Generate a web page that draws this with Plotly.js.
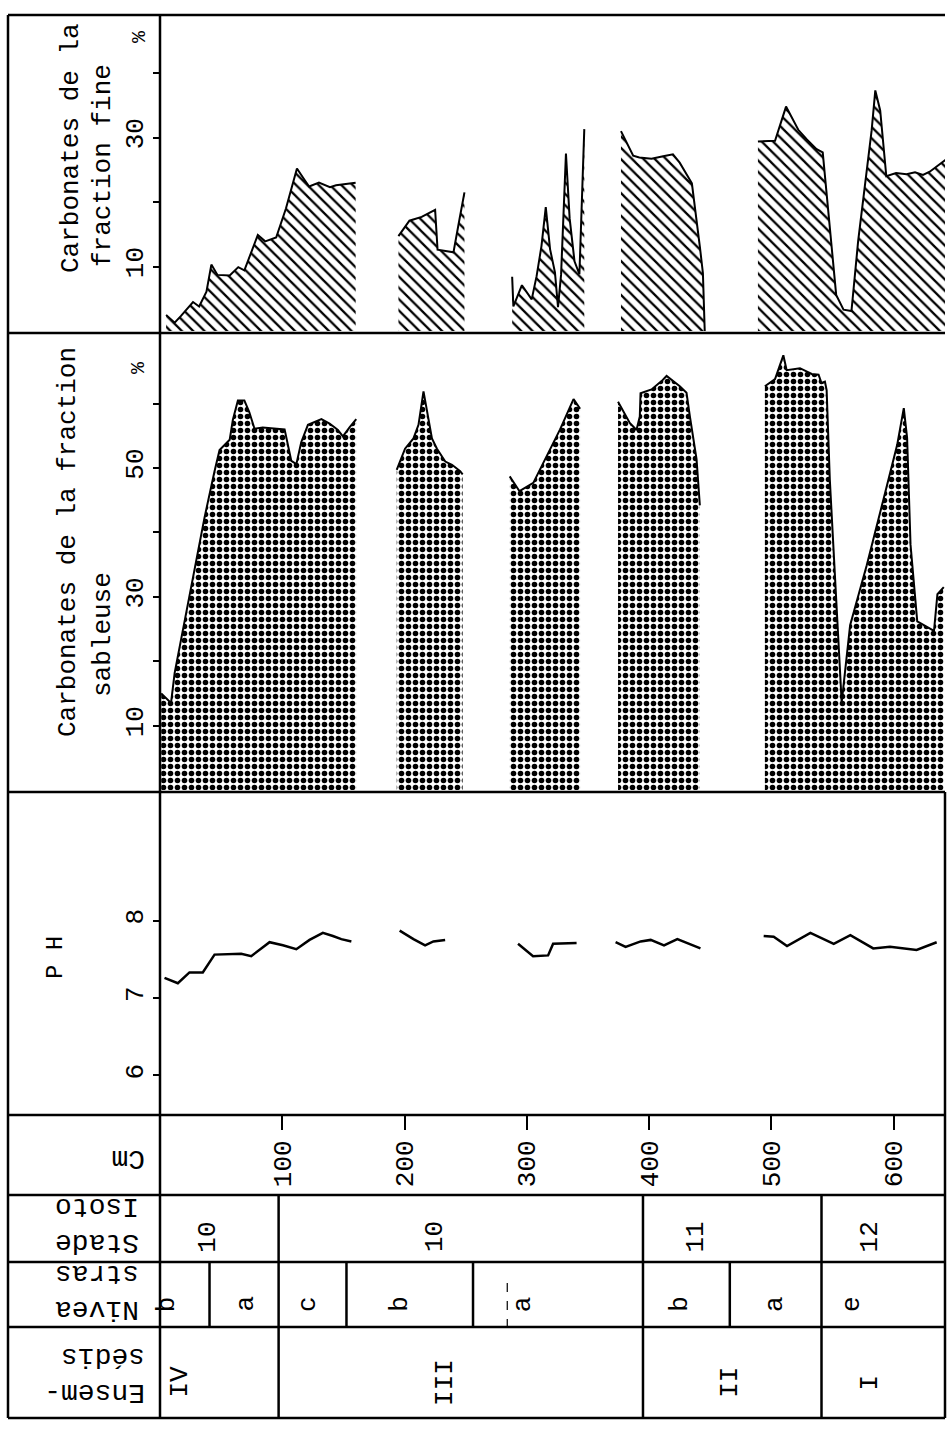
<!DOCTYPE html>
<html><head><meta charset="utf-8">
<script src="https://cdn.plot.ly/plotly-3.0.1.min.js"></script>
<style>html,body{margin:0;padding:0;background:#fff}#chart{width:950px;height:1442px}</style>
</head><body><div id="chart"></div>
<script>
// ---- DATA (depth in cm; null separates sampled sections) ----
const fineDepth = [5,12,17,27,32,38,42,47,57,64,69,80,86,95,103,112,118,122,130,139,144,160, null,
  195,204,214,225,227,240,245,249, null,
  288,289,296,300,304,308,312,315.5,319,323,325.5,328,332,335,339,343,347, null,
  377,387,392,402,411.5,419.5,425,435,441.5,444,445.5, null,
  489,503,512,522,529,537,542,546.5,553,559,565.5,571,576.5,582,585,589,594,602,610.5,617.5,624,629.5,643];
const fineValue = [2.5,1.3,2.3,4.5,3.8,6.1,10.3,8.7,8.6,9.9,9.4,14.9,13.9,14.5,19,25.2,23.5,22.4,23,22.3,22.6,23, null,
  14.7,17.1,17.7,18.8,12.6,12.2,17.4,21.5, null,
  8.4,3.8,7.1,5.9,4.9,8.5,13.2,19.2,12.7,9.1,3.7,8.7,27.5,17.5,10.8,8.8,31.3, null,
  31,27.2,26.9,26.7,27.1,27.4,26.1,22.9,13.1,9,0, null,
  29.4,29.5,34.8,31.2,29.7,28.2,27.7,19,5.6,3.3,3.1,14,22.8,31.1,37.3,34.2,24,24.5,24.3,24.6,24.2,24.7,26.6];

const sandDepth = [1,9,12,21,31,36.4,44.6,48.7,57,59.6,63.7,69,73,77.3,84,96.4,101.9,107.4,111.5,115.5,121,132,138.7,145.5,149.6,155,160.5, null,
  193.6,200.4,207.3,211.4,215.5,218.3,222.4,226.5,233.3,238.8,245.5,247.5, null,
  286,294,305.3,316.3,327.2,338.2,343.6, null,
  374.6,384.2,389.7,392.4,393,402,410.2,414.3,425.1,430.6,433.3,438.8,441.5, null,
  494.7,503,509.8,512.5,523.4,533,538.6,541,543.8,545.2,547.8,552,556,557.5,564.4,578,591.9,602.9,608.3,611,613.8,619.3,633,635.8,641];
const sandValue = [15,13.5,18.2,27.1,37.1,42.3,49.5,52.8,54.4,57.5,60.5,60.5,58.7,56.1,56.3,56.1,56,51.1,50.6,54,56.7,57.6,56.9,55.9,54.9,56.3,57.6, null,
  49.7,53,54.6,56.7,61.9,58.8,54.6,53,51,50.5,49.5,49, null,
  48.7,46.4,47.7,51.9,56,60.7,59.2, null,
  60.3,57,55.9,58,61.6,62.2,63.5,64.3,62.7,61.7,58.1,51.4,44.2, null,
  62.7,63.8,67.5,65.2,65.5,64.6,64.5,63.2,63.4,62.1,48.2,33.7,19.8,13.6,25.6,34.9,45.3,53.6,59.3,54.7,38.1,26.2,24.7,30.4,31.5];

const phDepth = [3.7,14.6,24.1,35,44.6,66.4,74.6,89.6,100.5,111.5,122.3,133.2,141.4,148.3,156.5, null,
  196,207.3,216.8,223.6,233.2, null,
  292.8,305.1,317.4,321.5,340.7, null,
  372.6,380.8,393.1,401.3,412.2,423.1,442, null,
  493.7,501.9,512.8,531.9,551,564.6,583.3,597,618.8,635.2];
const phValue = [7.26,7.19,7.33,7.33,7.56,7.57,7.54,7.72,7.68,7.63,7.75,7.84,7.80,7.76,7.73, null,
  7.87,7.76,7.68,7.73,7.75, null,
  7.70,7.54,7.55,7.70,7.71, null,
  7.72,7.66,7.73,7.75,7.68,7.76,7.64, null,
  7.80,7.79,7.67,7.84,7.70,7.81,7.64,7.66,7.62,7.72];

const depthTicks = [100,200,300,400,500,600];
const depthTickText = ["100","200","300","400","500","600"];
const fineTicks = [10,20,30,40];
const fineTickText = ["10","","30",""];
const sandTicks = [10,20,30,40,50,60];
const sandTickText = ["10","","30","","50",""];
const phTicks = [6,7,8];
const phTickText = ["6","7","8"];

const stadeBounds = [97,395,541];
const stadeLabels = ["10","10","11","12"];
const stadeLabelDepth = [39,225,438,581];
const niveauBounds = [40.5,97,152.5,256,395,466,541];
const niveauLabels = ["b","a","c","b","a","b","a","e"];
const niveauLabelDepth = [6,70,121,196,297,425,503,566];
const ensBounds = [97,395,541];
const ensLabels = ["IV","III","II","I"];
const ensLabelDepth = [16,233,466,581];
const dashedMarkDepth = [284];

// ---- LAYOUT HELPERS ----
const W = 950, H = 1442, L = 160, R = 5;
const PW = W - L - R;
const px = x => (x - L) / PW;        // pixel -> paper x
const py = y => 1 - y / H;           // pixel -> paper y
const FONT = "Liberation Mono, Courier New, monospace";

function segments(xs, ys) {
  const out = []; let cx = [], cy = [];
  xs.forEach((x, i) => {
    if (x === null) { if (cx.length) out.push([cx, cy]); cx = []; cy = []; }
    else { cx.push(x); cy.push(ys[i]); }
  });
  if (cx.length) out.push([cx, cy]);
  return out;
}

const traces = [];
segments(fineDepth, fineValue).forEach(([x, y]) => traces.push({
  x, y, xaxis: 'x', yaxis: 'y', type: 'scatter', mode: 'lines', fill: 'tozeroy',
  line: {color: '#000', width: 2},
  fillcolor: 'rgba(0,0,0,0)',
  fillpattern: {shape: '\\', size: 8, solidity: 0.28, fgcolor: '#000', bgcolor: '#fff'},
  hoverinfo: 'skip', showlegend: false
}));
segments(sandDepth, sandValue).forEach(([x, y]) => traces.push({
  x, y, xaxis: 'x', yaxis: 'y2', type: 'scatter', mode: 'lines', fill: 'tozeroy',
  line: {color: '#000', width: 2},
  fillcolor: 'rgba(0,0,0,0)',
  fillpattern: {shape: '.', size: 7, solidity: 0.5, fgcolor: '#000', bgcolor: '#fff'},
  hoverinfo: 'skip', showlegend: false
}));
segments(phDepth, phValue).forEach(([x, y]) => traces.push({
  x, y, xaxis: 'x', yaxis: 'y3', type: 'scatter', mode: 'lines',
  line: {color: '#000', width: 2.5},
  hoverinfo: 'skip', showlegend: false
}));

const tickFont = {family: FONT, size: 26, color: '#000'};
const yCommon = {
  anchor: 'x', side: 'left', showgrid: false, zeroline: false, showline: false,
  ticks: 'outside', ticklen: 6, tickwidth: 2, tickcolor: '#000',
  tickangle: -90, tickfont: tickFont, fixedrange: true
};

const layout = {
  width: W, height: H,
  margin: {l: L, r: R, t: 0, b: 0, autoexpand: false},
  paper_bgcolor: '#fff', plot_bgcolor: 'rgba(0,0,0,0)',
  showlegend: false,
  xaxis: {
    domain: [0, 1], range: [0, 642], anchor: 'y3', side: 'bottom',
    tickmode: 'array', tickvals: depthTicks, ticktext: depthTickText,
    tickangle: -90, ticks: 'outside', ticklen: 14, tickwidth: 2, tickcolor: '#000',
    tickfont: tickFont, showgrid: false, zeroline: false, showline: false, fixedrange: true
  },
  yaxis: Object.assign({}, yCommon, {domain: [py(331), py(15)], range: [0, 49],
    tickmode: 'array', tickvals: fineTicks, ticktext: fineTickText}),
  yaxis2: Object.assign({}, yCommon, {domain: [py(790), py(336)], range: [0, 70.5],
    tickmode: 'array', tickvals: sandTicks, ticktext: sandTickText}),
  yaxis3: Object.assign({}, yCommon, {domain: [py(1115), py(795)], range: [5.49, 9.62],
    tickmode: 'array', tickvals: phTicks, ticktext: phTickText}),
  shapes: [], annotations: []
};

const ln = {color: '#000', width: 2.5};
// horizontal frame lines
[15, 333, 792, 1115, 1195, 1262, 1327, 1418].forEach(y => layout.shapes.push({
  type: 'line', xref: 'paper', yref: 'paper', x0: px(8), x1: 1, y0: py(y), y1: py(y), line: ln
}));
// vertical frame lines
layout.shapes.push({type: 'line', xref: 'paper', yref: 'paper', x0: px(8), x1: px(8), y0: py(15), y1: py(1418), line: ln});
layout.shapes.push({type: 'line', xref: 'paper', yref: 'paper', x0: 0, x1: 0, y0: py(15), y1: py(1418), line: ln});
layout.shapes.push({type: 'line', xref: 'paper', yref: 'paper', x0: 1, x1: 1, y0: py(792), y1: py(1418), line: ln});
// table dividers
function dividers(bounds, top, bottom) {
  bounds.forEach(d => layout.shapes.push({type: 'line', xref: 'x', yref: 'paper',
    x0: d, x1: d, y0: py(top), y1: py(bottom), line: ln}));
}
dividers(stadeBounds, 1195, 1262);
dividers(niveauBounds, 1262, 1327);
dividers(ensBounds, 1327, 1418);
dashedMarkDepth.forEach(d => layout.shapes.push({type: 'line', xref: 'x', yref: 'paper',
  x0: d, x1: d, y0: py(1283), y1: py(1336), line: {color: '#000', width: 1.2, dash: 'dash'}}));

// table labels
function cellLabels(labels, depths, yc, size) {
  labels.forEach((t, i) => layout.annotations.push({
    text: t, xref: 'x', yref: 'paper', x: depths[i], y: py(yc), textangle: -90,
    showarrow: false, xanchor: 'center', yanchor: 'middle',
    font: {family: FONT, size: size, color: '#000'}
  }));
}
cellLabels(stadeLabels, stadeLabelDepth, 1237, 26);
cellLabels(niveauLabels, niveauLabelDepth, 1304, 26);
cellLabels(ensLabels, ensLabelDepth, 1382, 26);

function pxNote(text, x, y, angle, size, align) {
  layout.annotations.push({
    text: text, xref: 'paper', yref: 'paper', x: px(x), y: py(y), textangle: angle,
    showarrow: false, xanchor: 'center', yanchor: 'middle', align: align || 'center',
    font: {family: FONT, size: size, color: '#000'}
  });
}
// panel titles (rotated)
pxNote('Carbonates de la', 71, 148, -90, 26);
pxNote('fraction fine', 103, 166, -90, 26);
pxNote('Carbonates de la fraction', 68, 542, -90, 26);
pxNote('sableuse', 103, 635, -90, 26);
pxNote('P H', 55, 958, -90, 24);
pxNote('%', 140, 37, -90, 20);
pxNote('%', 138, 368, -90, 20);
// left column (upside-down) row labels
pxNote('Cm', 128, 1159, 180, 28);
pxNote('Stade<br>Isoto', 97, 1225, 180, 28, 'left');
pxNote('Nivea<br>stras', 97, 1292, 180, 28, 'left');
pxNote('Ensem-<br>sédis', 95, 1375, 180, 28, 'left');

Plotly.newPlot('chart', traces, layout, {staticPlot: true, displayModeBar: false});
</script>
</body></html>
